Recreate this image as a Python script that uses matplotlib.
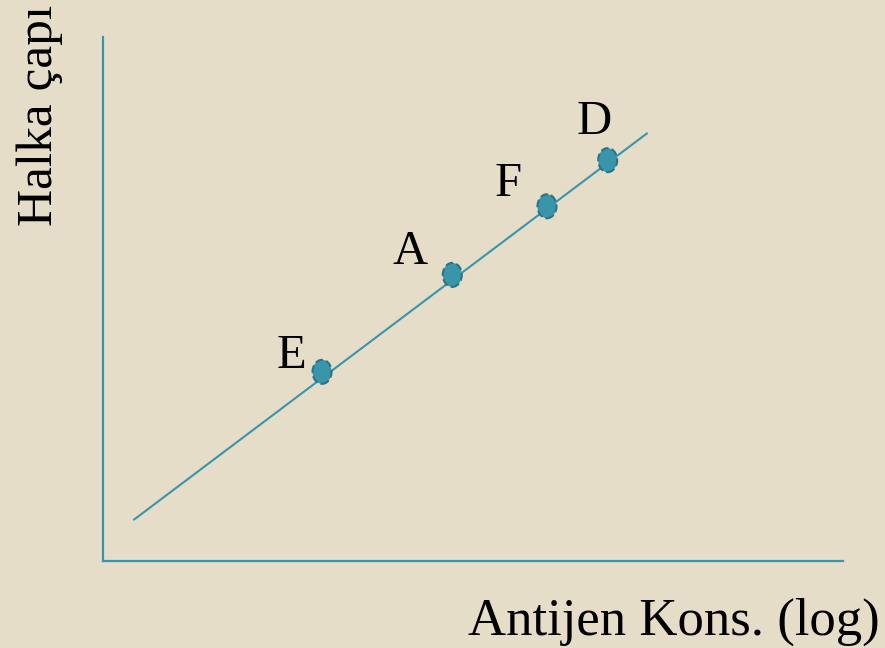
import matplotlib
matplotlib.use("Agg")
import matplotlib.pyplot as plt
from matplotlib.collections import EllipseCollection
import numpy as np

labels = ["E", "A", "F", "D"]
x_vals = [2.96, 4.72, 6.00, 6.82]
y_vals = [3.61, 5.46, 6.77, 7.65]
line_x = [0.41, 7.36]
line_y = [0.78, 8.17]
label_dx = [-0.42, -0.57, -0.52, -0.18]
label_dy = [0.30, 0.43, 0.43, 0.73]

BG = "#E6DDC9"
TEAL = "#3A95AB"
EDGE = "#2B7486"

fig = plt.figure(figsize=(8.85, 6.48), dpi=100, facecolor=BG)
ax = fig.add_axes([103/885, (648-561)/648, 740/885, 524/648])
ax.set_facecolor(BG)
ax.set_xlim(0, 10)
ax.set_ylim(0, 10)
for s in ["top", "right"]:
    ax.spines[s].set_visible(False)
for s in ["left", "bottom"]:
    ax.spines[s].set_color(TEAL)
    ax.spines[s].set_linewidth(1.6)
ax.set_xticks([])
ax.set_yticks([])

ax.plot(line_x, line_y, color=TEAL, lw=1.5, solid_capstyle="butt", zorder=2)

offsets = np.column_stack([x_vals, y_vals])
ec = EllipseCollection(widths=np.full(len(x_vals), 19), heights=np.full(len(x_vals), 24),
                       angles=np.zeros(len(x_vals)), units="dots",
                       offsets=offsets, offset_transform=ax.transData,
                       facecolors=TEAL, edgecolors=EDGE, linewidths=1.5,
                       linestyles="--", zorder=3)
ax.add_collection(ec)

for lab, x, y, dx, dy in zip(labels, x_vals, y_vals, label_dx, label_dy):
    ax.text(x + dx, y + dy, lab, fontsize=35, family="Liberation Serif",
            ha="center", va="center", color="black")

fig.text(880/885, (648-622)/648, "Antijen Kons. (log)", fontsize=38, family="Liberation Serif",
         ha="right", va="center", color="black")
fig.text(40/885, (648-226)/648, "Halka çapı", fontsize=37, family="Liberation Serif",
         ha="center", va="bottom", rotation=90, color="black")

fig.savefig("out.png", dpi=100, facecolor=BG)
